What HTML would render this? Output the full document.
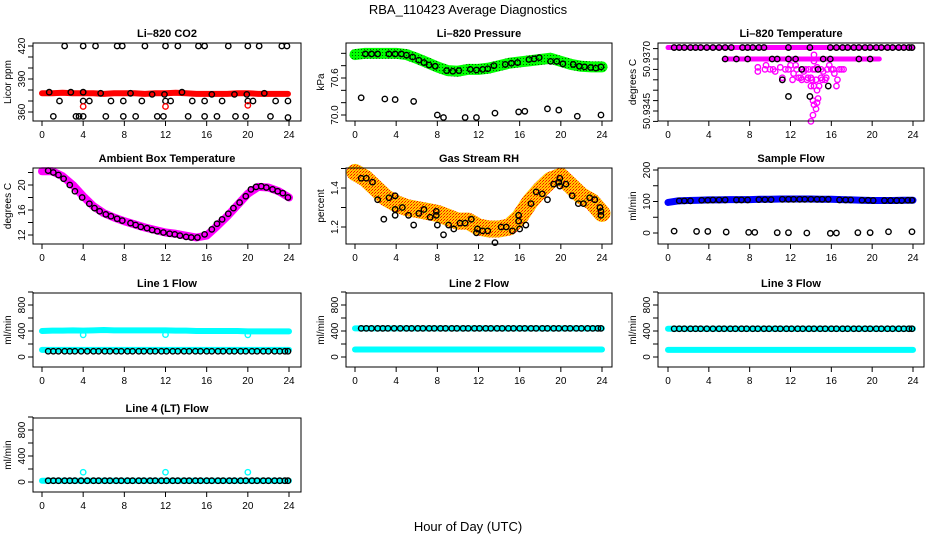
<!DOCTYPE html>
<html><head><meta charset="utf-8"><style>
html,body{margin:0;padding:0;background:#fff}
svg{display:block;font-family:"Liberation Sans",sans-serif}
</style></head><body>
<svg id="c" width="936" height="540" viewBox="0 0 936 540" xmlns="http://www.w3.org/2000/svg">
<defs>
<pattern id="pGreen" width="3" height="3" patternUnits="userSpaceOnUse"><rect width="3" height="3" fill="#00ff00"/><rect x="1" y="1" width="1" height="1" fill="#006000"/></pattern>
<pattern id="pRH" width="3" height="3" patternUnits="userSpaceOnUse"><rect width="3" height="3" fill="#ffcc00"/><rect width="1" height="1" fill="#ff0000"/><rect x="2" y="1" width="1" height="1" fill="#ff2000"/><rect x="1" y="2" width="1" height="1" fill="#ff8000"/></pattern>
</defs>
<text x="468" y="14" text-anchor="middle" font-size="13">RBA_110423  Average Diagnostics</text>
<text x="468" y="531" text-anchor="middle" font-size="13">Hour of Day (UTC)</text>
</svg>
<script>
// ---- data ----
const hours = [0,1,2,3,4,5,6,7,8,9,10,11,12,13,14,15,16,17,18,19,20,21,22,23,24];
const xTicks = [0,4,8,12,16,20,24];
// CO2
const co2Band = [377,377,377.5,377,377,377,376.5,377,377,377,376.5,377,377,377.5,377,376.5,376.5,376.5,376.5,377,377,376.5,376.5,376.5,376.5];
const co2BlkH = [2.2,4,5.2,7.3,7.8,10,12,13.2,15.2,15.8,18.1,20,21.1,23.3,23.8, 0.7,2.8,4,5.7,8.6,10.7,11.9,13.6,16.5,18.7,19.9,21.6, 1.7,4,4.6,6.7,7.9,9.7,12,12.5,14.6,15.8,17.5,20,20.5,22.7,23.9, 1.1,3.3,3.6,4,6.2,7.9,9.1,11.2,11.8,14.2,15.8,17,18.8,19.8,22.2,23.9];
const co2BlkV = [420,420,420,420,420,420,420,420,420,420,420,420,420,420,420, 378,378,378,377,377,376,376,378,376,376,376,377, 370,370,370,370,370,370,370,370,370,370,370,370,370,370,370, 356,356,356,356,356,356,356,356,356,356,356,356,356,356,356,355];
const co2RedH = [4,12,20];
const co2RedV = [365,365,366];
// Pressure
const presBand = [70.98,71.0,71.0,71.0,71.0,70.98,70.92,70.85,70.78,70.72,70.71,70.74,70.74,70.76,70.8,70.84,70.86,70.88,70.9,70.92,70.87,70.82,70.79,70.78,70.78];
const presBlkH = [1,1.6,2.2,3.3,3.9,4.5,5.0,5.6,6.2,6.7,7.2,7.8,8.9,9.5,10.1,11.2,11.8,12.4,12.9,13.5,14.6,15.2,15.8,16.9,17.4,17.9,19,19.6,20.2,21.2,21.8,22.3,22.9,23.4,23.9, 0.6,2.9,3.9,5.7,8,8.6,10.7,11.8,13.6,15.9,16.5,18.7,19.8,21.6,23.9];
const presBlkV = [70.99,70.99,70.99,70.99,70.99,70.99,70.97,70.94,70.89,70.85,70.81,70.79,70.72,70.71,70.72,70.74,70.73,70.74,70.75,70.80,70.82,70.84,70.85,70.90,70.91,70.93,70.87,70.87,70.83,70.82,70.79,70.78,70.77,70.76,70.78, 70.28,70.26,70.25,70.22,70.0,69.96,69.96,69.96,70.03,70.05,70.06,70.1,70.08,69.98,70.0];
// Li-820 temperature
const tmpBandTop = 50.93755;
const tmpRow2H = [5.5,20.7];
const tmpRow2V = [50.9370,50.9370];
const tmpMagH = [8.8,8.8,9.6,10,10.5,11,11.2,11.8,12,12.3,12.5,12.8,13,13.3,13.5,13.7,14,14,14.2,14.3,14.5,14.6,14.6,14.7,14.8,14.2,14.3,14.5,14.6,14.2,14.0,15,15.2,15.5,15.8,16,16.3,16.5,16.6,17,14.3,14.3,9.5,10.3,11.5,12.6,13.2,13.8,14.4,15,15.6,16.2,16.8,17.2,11.2,12.2,13.1,13.6,14.1,15.1,15.4];
const tmpMagV = [50.9366,50.9364,50.9367,50.9365,50.9364,50.9366,50.9361,50.9365,50.9367,50.9363,50.9367,50.9361,50.9361,50.9364,50.9365,50.9361,50.9361,50.9357,50.9365,50.9357,50.9360,50.9366,50.9355,50.9351,50.9357,50.9350,50.9348,50.9346,50.9349,50.9343,50.9340,50.9361,50.9364,50.9361,50.9367,50.9365,50.9363,50.9357,50.9360,50.9365,50.9372,50.9369,50.9365,50.9365,50.9365,50.9365,50.9365,50.9365,50.9365,50.9365,50.9365,50.9365,50.9365,50.9365,50.9360,50.9360,50.9360,50.9360,50.9360,50.9360,50.9360];
const tmpBlkH = [0.6,1.1,1.6,2.2,2.7,3.2,3.8,4.4,5,5.6,6.2,7.3,7.8,8.3,8.9,9.4,11.8,13.9,16.5,17.1,17.6,18.2,18.7,19.3,19.8,20.4,20.9,21.5,22,22.6,23.1,23.6,23.9, 5.6,6.7,7.8,10.2,10.7,11.8,12.5,15.2,15.9,18.7,19.8, 13.1,14.7,11.2,15.7,11.8,13.9,15.9];
const tmpBlkV = [50.93755,50.93755,50.93755,50.93755,50.93755,50.93755,50.93755,50.93755,50.93755,50.93755,50.93755,50.93755,50.93755,50.93755,50.93755,50.93755,50.93755,50.93755,50.93755,50.93755,50.93755,50.93755,50.93755,50.93755,50.93755,50.93755,50.93755,50.93755,50.93755,50.93755,50.93755,50.93755,50.93755, 50.9370,50.9370,50.9370,50.9370,50.9370,50.9370,50.9370,50.9370,50.9370,50.9370,50.9370, 50.9365,50.9365,50.9360,50.9357,50.9352,50.9352,50.93755];
// Ambient box temperature
const ambBand = [22.2,22.2,21.4,20.0,18.2,16.6,15.5,14.8,14.2,13.7,13.2,12.8,12.4,12.2,11.9,11.6,11.9,13.4,15.0,16.8,18.6,19.7,19.6,19.0,18.0];
const ambBlkH = [0.6,1.1,1.6,2.1,2.7,3.2,3.9,4.6,5.1,5.6,6.2,6.7,7.3,7.8,8.6,9.1,9.6,10.2,10.7,11.2,11.8,12.4,12.9,13.4,14.0,14.5,15.1,15.8,16.5,17.0,17.5,18.1,18.6,19.2,19.8,20.3,20.8,21.3,21.8,22.4,22.9,23.4,23.9];
const ambBlkV = [22.3,22.0,21.6,21.0,20.0,19.0,18.0,17.0,16.3,15.8,15.3,15.0,14.6,14.3,13.9,13.6,13.3,13.1,12.8,12.6,12.4,12.2,12.1,11.9,11.7,11.6,11.6,12.1,12.9,13.8,14.5,15.4,16.3,17.2,18.2,19.3,19.7,19.8,19.6,19.3,19.0,18.7,18.0];
// Gas stream RH
const rhBand = [1.48,1.45,1.40,1.35,1.32,1.30,1.29,1.28,1.27,1.25,1.23,1.23,1.20,1.19,1.19,1.20,1.25,1.33,1.39,1.44,1.46,1.41,1.36,1.33,1.27];
const rhBlkH = [0.6,1.1,1.7,2.2,2.8,3.3,3.9,3.9,3.9,4.6,5.2,5.7,6.2,6.7,7.3,7.9,7.9,8,8.6,9.1,9.6,10.2,10.7,11.3,11.8,11.9,12.4,12.9,13.6,14.2,14.7,15.3,15.9,15.9,16.0,16.6,17.1,17.6,18.2,18.7,19.3,19.8,19.9,19.9,20.5,21.1,21.7,22.2,22.8,23.3,23.8,23.9,23.9];
const rhBlkV = [1.45,1.45,1.43,1.34,1.24,1.35,1.36,1.29,1.26,1.30,1.26,1.21,1.27,1.29,1.25,1.28,1.26,1.21,1.16,1.21,1.19,1.22,1.22,1.24,1.17,1.19,1.18,1.18,1.12,1.20,1.20,1.18,1.23,1.26,1.19,1.21,1.32,1.38,1.37,1.34,1.42,1.43,1.45,1.41,1.42,1.36,1.32,1.32,1.35,1.34,1.30,1.26,1.28];
// Sample flow
const sfBand = [97,102,103,104,105,105,106,106,106,107,107,108,108,108,108,107,107,106,105,104,103,103,103,104,104];
const sfBlkH = [1.1,1.6,2.2,3.3,3.9,4.4,5.0,5.6,6.7,7.2,7.8,8.9,9.5,10.1,11.2,11.8,12.3,12.9,13.4,14.0,14.6,15.1,15.7,16.8,17.4,17.9,19.0,19.6,20.1,21.2,21.8,22.4,22.9,23.5,23.9, 0.6,2.8,3.9,5.7,7.9,8.5,10.7,11.8,13.6,15.9,16.5,18.6,19.8,21.6,23.9];
const sfBlkV = [102,102,102,104,104,105,105,105,105,105,105,106,106,106,107,107,107,107,107,107,107,107,107,105,105,105,104,104,103,103,103,103,103,104,104, 6,5,5,3,2,2,1,1,0,-1,0,1,1,4,4];
// Line flows
const l1High = [400,405,405,410,405,410,415,410,410,410,410,410,410,405,405,400,400,400,400,400,395,395,395,395,395];
const l1Low = [110,110,110,110,110,110,110,110,110,110,110,110,110,110,110,110,110,110,110,110,110,110,110,110,110];
const l1DipH = [4,12,20]; const l1DipV = [340,345,340];
const l1BlkV = 88;
const l2High = [440,440,440,440,440,440,440,440,440,440,440,440,440,440,440,440,440,440,440,440,440,440,440,440,440];
const l2Low = [115,115,115,115,115,115,115,115,115,115,115,115,115,115,115,115,115,115,115,115,115,115,115,115,115];
const l3High = [435,435,435,435,435,435,435,435,435,435,435,435,435,435,435,435,435,435,435,435,435,435,435,435,435];
const l3Low = [110,110,110,110,110,110,110,110,110,110,110,110,110,110,110,110,110,110,110,110,110,110,110,110,110];
const l4Band = [20,20,20,20,20,20,20,20,20,20,20,20,20,20,20,20,20,20,20,20,20,20,20,20,20];
const l4OutH = [4,12,20]; const l4OutV = [150,150,150];
const blkFlowH = [0.6,1.1,1.6,2.2,2.7,3.2,3.8,4.4,5,5.5,6.1,6.6,7.2,7.7,8.3,8.8,9.4,9.9,10.5,11,11.6,12.1,12.7,13.2,13.8,14.3,14.9,15.4,16,16.5,17.1,17.6,18.2,18.7,19.3,19.8,20.4,20.9,21.5,22,22.6,23.1,23.6,23.9];

// ---- layout ----
const svg = document.getElementById('c');
const NS = 'http://www.w3.org/2000/svg';
const COLS = [{L:33,R:301,x0:42,x24:289},{L:346,R:612,x0:355,x24:602},{L:658,R:924,x0:668,x24:913}];
const ROWS = [{T:43,B:121},{T:168,B:244},{T:293,B:367},{T:418,B:492}];
function el(tag, attrs, parent){const e=document.createElementNS(NS,tag);for(const k in attrs)e.setAttribute(k,attrs[k]);(parent||svg).appendChild(e);return e;}

function panel(name, ci, ri, title, ylab, v0, p0, v1, p1, yTicks, yLabels){
  const c=COLS[ci], r=ROWS[ri];
  const g=el('g',{});
  
  
  const sx=h=>c.x0+(h/24)*(c.x24-c.x0);
  const sy=v=>p0+(v-v0)*(p1-p0)/(v1-v0);
  const t=el('text',{x:(c.L+c.R)/2,y:r.T-6,'text-anchor':'middle','font-size':11,'font-weight':'bold'},g);
  t.textContent=title;
  
  
  const yl=el('text',{x:0,y:0,'text-anchor':'middle','font-size':10,transform:`translate(${c.L-22},${(r.T+r.B)/2}) rotate(-90)`},g);
  yl.textContent=ylab;
  
  
  el('line',{x1:sx(0),x2:sx(24),y1:r.B,y2:r.B,stroke:'#000','stroke-width':1},g);
  xTicks.forEach(h=>{
    el('line',{x1:sx(h),x2:sx(h),y1:r.B,y2:r.B+5,stroke:'#000'},g);
    const tl=el('text',{x:sx(h),y:r.B+17,'text-anchor':'middle','font-size':10},g);
    tl.textContent=h;
    
    
  });
  el('line',{x1:c.L,x2:c.L,y1:sy(yTicks[0]),y2:sy(yTicks[yTicks.length-1]),stroke:'#000'},g);
  yTicks.forEach(v=>el('line',{x1:c.L-5,x2:c.L,y1:sy(v),y2:sy(v),stroke:'#000'},g));
  yLabels.forEach(lb=>{
    const tl=el('text',{x:0,y:0,'text-anchor':'middle','font-size':10,transform:`translate(${c.L-8},${sy(lb.v)}) rotate(-90)`},g);
    tl.textContent=lb.t;
    
    
  });
  const plot=el('g',{},g);
  el('rect',{x:c.L,y:r.T,width:c.R-c.L,height:r.B-r.T,fill:'none',stroke:'#000','stroke-width':1},g);
  return {g:plot,sx,sy};
}
function band(p, xs, ys, stroke, w, name){
  const pl=el('polyline',{points:xs.map((h,i)=>p.sx(h)+','+p.sy(ys[i])).join(' '),fill:'none',stroke:stroke,'stroke-width':w,'stroke-linejoin':'round','stroke-linecap':'round'},p.g);
  
  
}
function circles(p, xs, ys, color, r, name){
  const gg=el('g',{},p.g);
  
  
  xs.forEach((h,i)=>{
    const v=Array.isArray(ys)?ys[i]:ys;
    el('circle',{cx:p.sx(h),cy:p.sy(v),r:r||2.7,fill:'none',stroke:color,'stroke-width':1.4},gg);
  });
}

let p=panel('panel-co2',0,0,'Li\u2013820 CO2','Licor ppm',360,112,420,46,[360,370,380,390,400,410,420],[{v:360,t:'360'},{v:390,t:'390'},{v:420,t:'420'}]);
band(p,hours.slice(0,24).concat([23.9]),co2Band,'#ff0000',6,'co2-series');
circles(p,co2BlkH,co2BlkV,'#000',2.7,'co2-outliers');
circles(p,co2RedH,co2RedV,'#ff0000',2.7,'co2-red-outliers');
p=panel('panel-pressure',1,0,'Li\u2013820 Pressure','kPa',70.0,115,70.6,78,[70.0,70.2,70.4,70.6,70.8,71.0],[{v:70.0,t:'70.0'},{v:70.6,t:'70.6'}]);
band(p,hours,presBand,'url(#pGreen)',11,'pressure-series');
circles(p,presBlkH,presBlkV,'#000',2.7,'pressure-points');
p=panel('panel-li820-temp',2,0,'Li\u2013820 Temperature','degrees C',50.9370,59,50.9345,111,[50.9340,50.9345,50.9350,50.9355,50.9360,50.9365,50.9370,50.9375],[{v:50.9345,t:'50.9345'},{v:50.9370,t:'50.9370'}]);
band(p,[0,24],[tmpBandTop,tmpBandTop],'#ff00ff',5,'temp-top-row');
band(p,tmpRow2H,tmpRow2V,'#ff00ff',5,'temp-second-row');
circles(p,tmpMagH,tmpMagV,'#ff00ff',2.7,'temp-scatter');
circles(p,tmpBlkH,tmpBlkV,'#000',2.7,'temp-points');
p=panel('panel-ambient-temp',0,1,'Ambient Box Temperature','degrees C',12,235,20,185,[12,14,16,18,20,22],[{v:12,t:'12'},{v:16,t:'16'},{v:20,t:'20'}]);
band(p,hours,ambBand,'#ff00ff',8,'ambient-series');
circles(p,ambBlkH,ambBlkV,'#000',2.7,'ambient-points');
p=panel('panel-gas-rh',1,1,'Gas Stream RH','percent',1.2,227,1.4,188,[1.2,1.3,1.4,1.5],[{v:1.2,t:'1.2'},{v:1.4,t:'1.4'}]);
band(p,hours,rhBand,'url(#pRH)',17,'rh-series');
circles(p,rhBlkH,rhBlkV,'#000',2.7,'rh-points');
p=panel('panel-sample-flow',2,1,'Sample Flow','ml/min',0,233,200,170,[0,50,100,150,200],[{v:0,t:'0'},{v:100,t:'100'},{v:200,t:'200'}]);
band(p,hours,sfBand,'#0000ff',7,'sample-flow-series');
circles(p,sfBlkH,sfBlkV,'#000',2.7,'sample-flow-points');
const flowTicks=[0,200,400,600,800,1000];
const flowLabels=[{v:0,t:'0'},{v:400,t:'400'},{v:800,t:'800'}];
p=panel('panel-line1-flow',0,2,'Line 1 Flow','ml/min',0,357,800,305,flowTicks,flowLabels);
band(p,hours,l1High,'#00ffff',6,'line1-high');
band(p,hours,l1Low,'#00ffff',6,'line1-low');
circles(p,l1DipH,l1DipV,'#00ffff',2.7,'line1-dips');
circles(p,blkFlowH,l1BlkV,'#000',2.7,'line1-points');
p=panel('panel-line2-flow',1,2,'Line 2 Flow','ml/min',0,357,800,305,flowTicks,flowLabels);
band(p,hours,l2Low,'#00ffff',6,'line2-low');
band(p,hours,l2High,'#00ffff',6,'line2-high');
circles(p,blkFlowH,440,'#000',2.7,'line2-points');
p=panel('panel-line3-flow',2,2,'Line 3 Flow','ml/min',0,357,800,305,flowTicks,flowLabels);
band(p,hours,l3Low,'#00ffff',6,'line3-low');
band(p,hours,l3High,'#00ffff',6,'line3-high');
circles(p,blkFlowH,435,'#000',2.7,'line3-points');
p=panel('panel-line4-flow',0,3,'Line 4 (LT) Flow','ml/min',0,482,800,430,flowTicks,flowLabels);
band(p,hours,l4Band,'#00ffff',6,'line4-series');
circles(p,l4OutH,l4OutV,'#00ffff',2.7,'line4-outliers');
circles(p,blkFlowH,20,'#000',2.7,'line4-points');
</script>
</body></html>
